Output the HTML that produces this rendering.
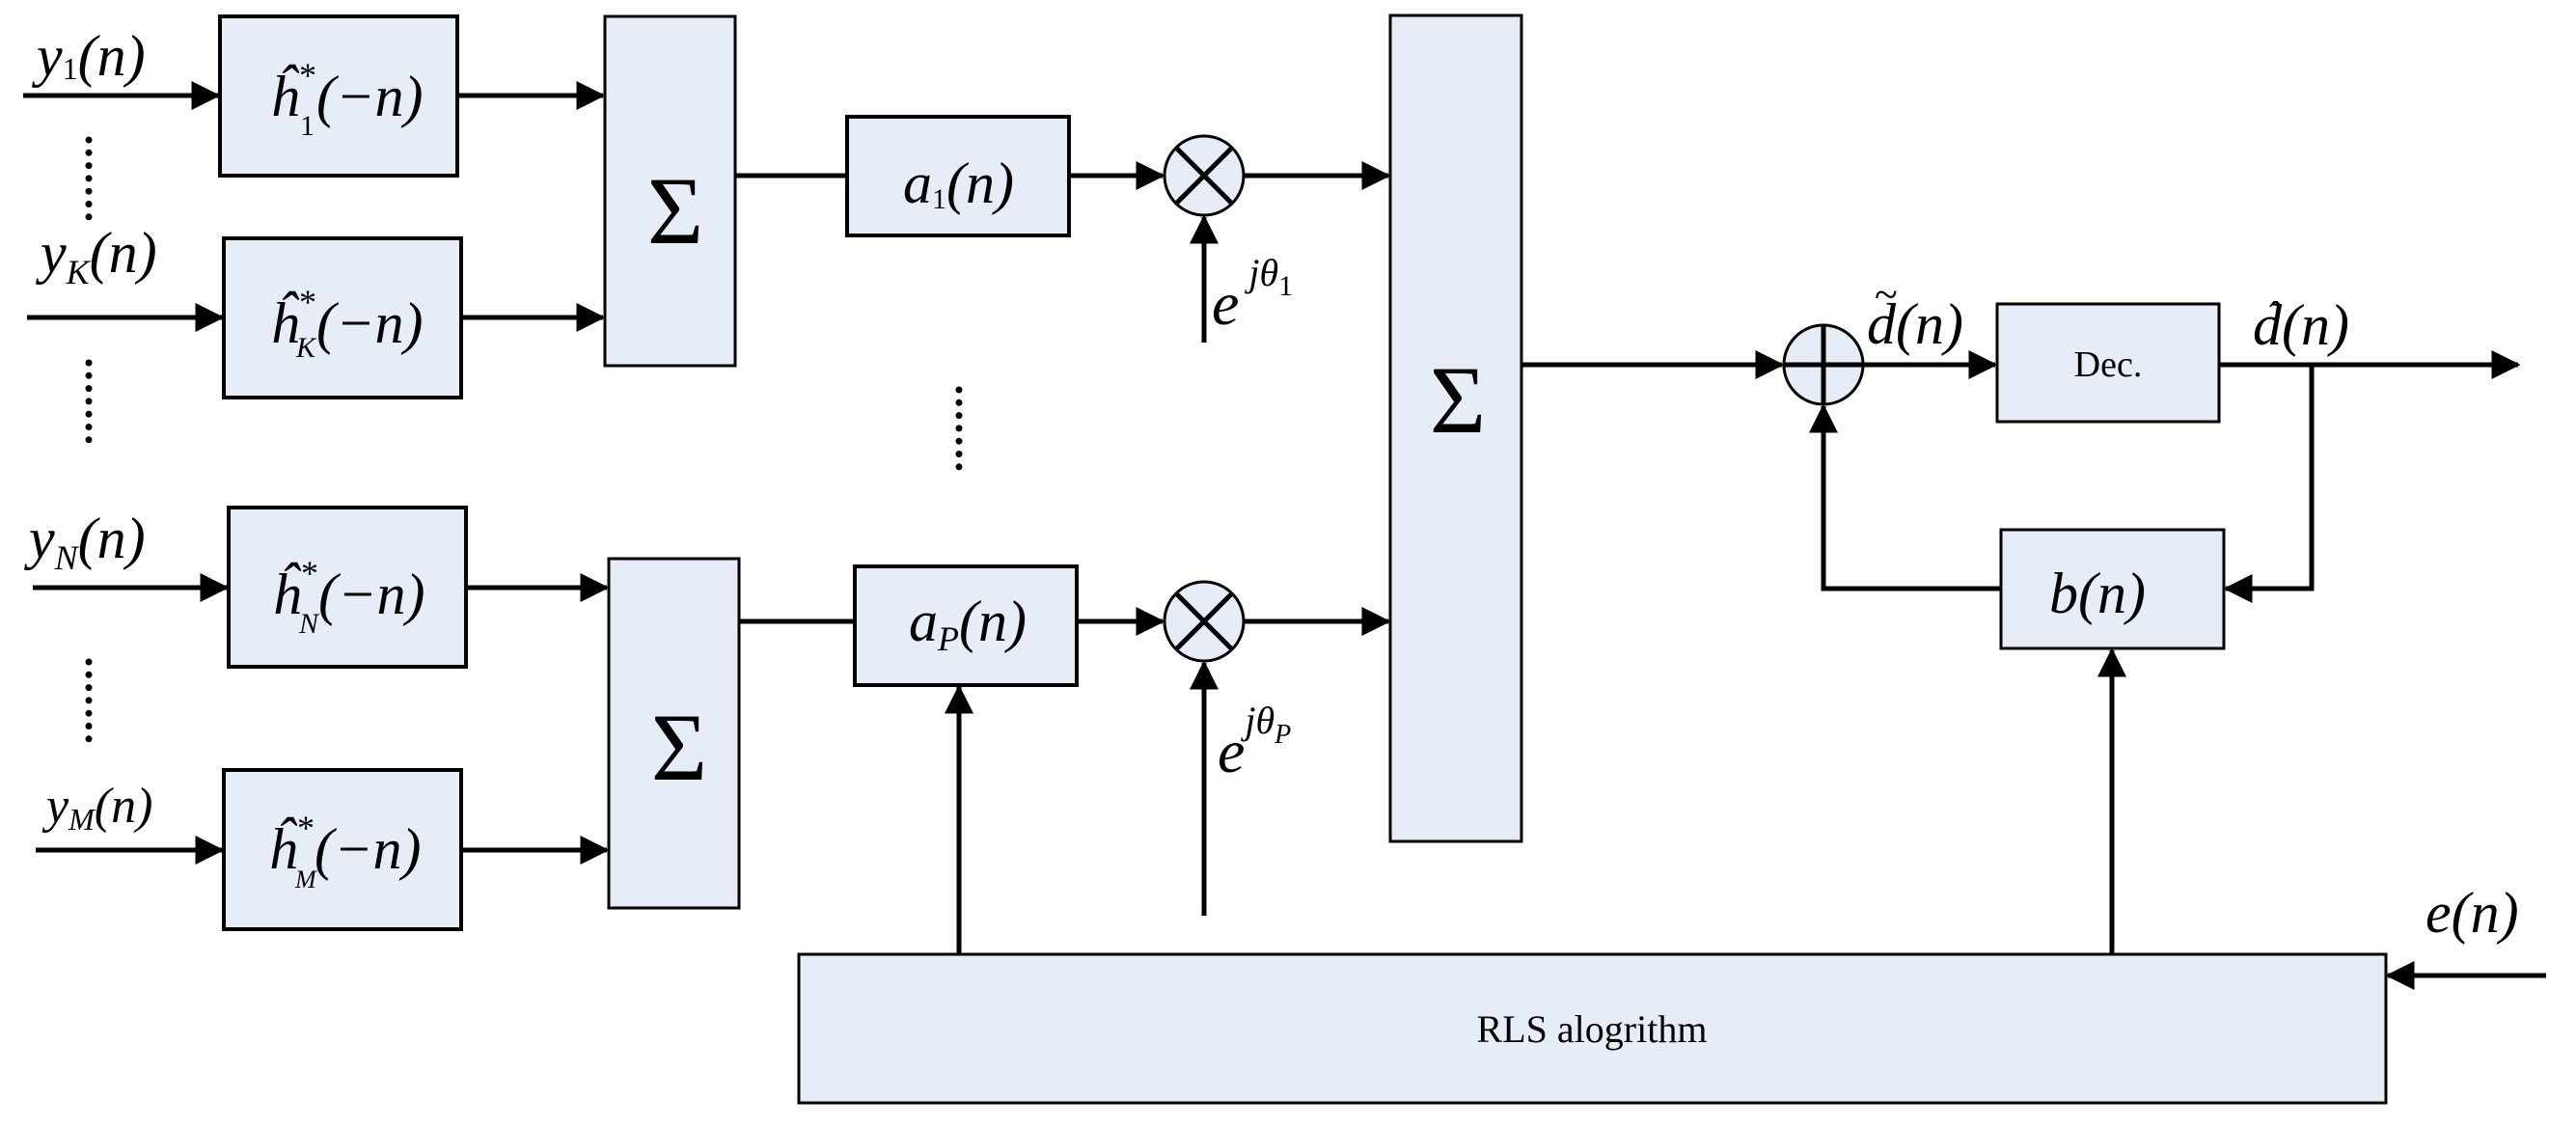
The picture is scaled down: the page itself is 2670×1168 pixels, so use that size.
<!DOCTYPE html>
<html><head><meta charset="utf-8"><style>html,body{margin:0;padding:0;background:#fff}svg{display:block}</style></head>
<body>
<svg width="2670" height="1168" viewBox="0 0 2670 1168" xmlns="http://www.w3.org/2000/svg" font-family="Liberation Serif, serif">
<defs>
<marker id="a" markerWidth="6" markerHeight="6" refX="5.5" refY="3" orient="auto" markerUnits="strokeWidth"><path d="M0,0 L6,3 L0,6 z" fill="#000"/></marker>
</defs>
<g fill="#e6edf7" stroke="#000" stroke-width="4">
<rect x="228" y="17" width="246" height="165"/>
<rect x="232" y="247" width="246" height="165"/>
<rect x="237" y="526" width="246" height="165"/>
<rect x="232" y="798" width="246" height="165"/>
<rect x="627" y="17" width="135" height="362" stroke-width="3"/>
<rect x="631" y="579" width="135" height="362" stroke-width="3"/>
<rect x="878" y="121" width="230" height="123"/>
<rect x="886" y="587" width="230" height="123"/>
<rect x="1441" y="16" width="136" height="856" stroke-width="3"/>
<rect x="2070" y="315" width="230" height="122" stroke-width="3"/>
<rect x="2074" y="549" width="231" height="123" stroke-width="3"/>
<rect x="828" y="989" width="1645" height="154" stroke-width="3"/>
<circle cx="1248" cy="182" r="41" stroke-width="3"/>
<circle cx="1248" cy="644" r="41" stroke-width="3"/>
<circle cx="1890" cy="378" r="41" stroke-width="3"/>
</g>
<g stroke="#000" stroke-width="5" fill="none">
<line x1="1219" y1="153" x2="1277" y2="211"/><line x1="1277" y1="153" x2="1219" y2="211"/>
<line x1="1219" y1="615" x2="1277" y2="673"/><line x1="1277" y1="615" x2="1219" y2="673"/>
<line x1="1890" y1="337" x2="1890" y2="419"/><line x1="1849" y1="378" x2="1931" y2="378"/>
</g>
<g stroke="#000" stroke-width="5" fill="none" marker-end="url(#a)">
<line x1="24" y1="99" x2="226" y2="99"/>
<line x1="474" y1="99" x2="625" y2="99"/>
<line x1="28" y1="329" x2="230" y2="329"/>
<line x1="478" y1="329" x2="625" y2="329"/>
<line x1="34" y1="609" x2="235" y2="609"/>
<line x1="483" y1="609" x2="629" y2="609"/>
<line x1="37" y1="881" x2="230" y2="881"/>
<line x1="478" y1="881" x2="629" y2="881"/>
<line x1="1108" y1="182" x2="1205" y2="182"/>
<line x1="1116" y1="644" x2="1205" y2="644"/>
<line x1="1289" y1="182" x2="1439" y2="182"/>
<line x1="1289" y1="644" x2="1439" y2="644"/>
<line x1="1248" y1="355" x2="1248" y2="225"/>
<line x1="1248" y1="949" x2="1248" y2="687"/>
<line x1="994" y1="988" x2="994" y2="712"/>
<line x1="1577" y1="378" x2="1847" y2="378"/>
<line x1="1931" y1="378" x2="2068" y2="378"/>
<line x1="2300" y1="378" x2="2610" y2="378"/>
<polyline points="2396,378 2396,610 2307,610"/>
<polyline points="2074,610 1890,610 1890,421"/>
<line x1="2189" y1="988" x2="2189" y2="674"/>
<line x1="2639" y1="1011" x2="2475" y2="1011"/>
</g>
<g stroke="#000" stroke-width="5">
<line x1="762" y1="182" x2="878" y2="182"/>
<line x1="766" y1="644" x2="886" y2="644"/>
</g>
<g stroke="#000" stroke-width="7" stroke-dasharray="0 13.3" stroke-linecap="round">
<line x1="92" y1="145" x2="92" y2="225"/>
<line x1="92" y1="376" x2="92" y2="456"/>
<line x1="92" y1="686" x2="92" y2="766"/>
<line x1="994" y1="404" x2="994" y2="484"/>
</g>
<g font-style="italic" font-size="60" fill="#000">
<text x="38" y="78">y<tspan font-size="32" dy="4" font-style="normal">1</tspan><tspan dy="-4">(n)</tspan></text>
<text x="42" y="282">y<tspan font-size="36" dy="12">K</tspan><tspan dy="-12">(n)</tspan></text>
<text x="30" y="578">y<tspan font-size="36" dy="12">N</tspan><tspan dy="-12">(n)</tspan></text>
<text x="48" y="852" font-size="52">y<tspan font-size="32" dy="8">M</tspan><tspan dy="-8">(n)</tspan></text>
<text x="280" y="120">ĥ<tspan font-size="36" dy="-30" font-style="normal">*</tspan><tspan dy="30">(−n)</tspan></text>
<text x="311" y="140" font-size="30" font-style="normal">1</text>
<text x="280" y="355">ĥ<tspan font-size="36" dy="-30" font-style="normal">*</tspan><tspan dy="30">(−n)</tspan></text>
<text x="307" y="370" font-size="30">K</text>
<text x="282" y="636">ĥ<tspan font-size="36" dy="-30" font-style="normal">*</tspan><tspan dy="30">(−n)</tspan></text>
<text x="310" y="656" font-size="30">N</text>
<text x="278" y="900">ĥ<tspan font-size="36" dy="-30" font-style="normal">*</tspan><tspan dy="30">(−n)</tspan></text>
<text x="306" y="920" font-size="26">M</text>
<text x="936" y="210">a<tspan font-size="30" dy="6" font-style="normal">1</tspan><tspan dy="-6">(n)</tspan></text>
<text x="942" y="664">a<tspan font-size="36" dy="10">P</tspan><tspan dy="-10">(n)</tspan></text>
<text x="1256" y="336" font-size="64">e<tspan font-size="40" dy="-40"> jθ</tspan><tspan font-size="30" dy="10" font-style="normal">1</tspan></text>
<text x="1262" y="800" font-size="64">e<tspan font-size="40" dy="-40">jθ</tspan><tspan font-size="28" dy="10">P</tspan></text>
<text x="1935" y="356">d(n)</text>
<text x="1943" y="320" font-size="44" font-style="normal">~</text>
<text x="2335" y="357">d(n)</text>
<text x="2352" y="340" font-size="40" font-style="normal">ˆ</text>
<text x="2124" y="635">b(n)</text>
<text x="2514" y="966">e(n)</text>
</g>
<g font-size="100" text-anchor="middle" fill="#000">
<text x="700" y="252">Σ</text>
<text x="704" y="808">Σ</text>
<text x="1511" y="448">Σ</text>
</g>
<text x="2185" y="390" font-size="38" text-anchor="middle">Dec.</text>
<text x="1650" y="1080" font-size="40" text-anchor="middle">RLS alogrithm</text>
</svg>
</body></html>
